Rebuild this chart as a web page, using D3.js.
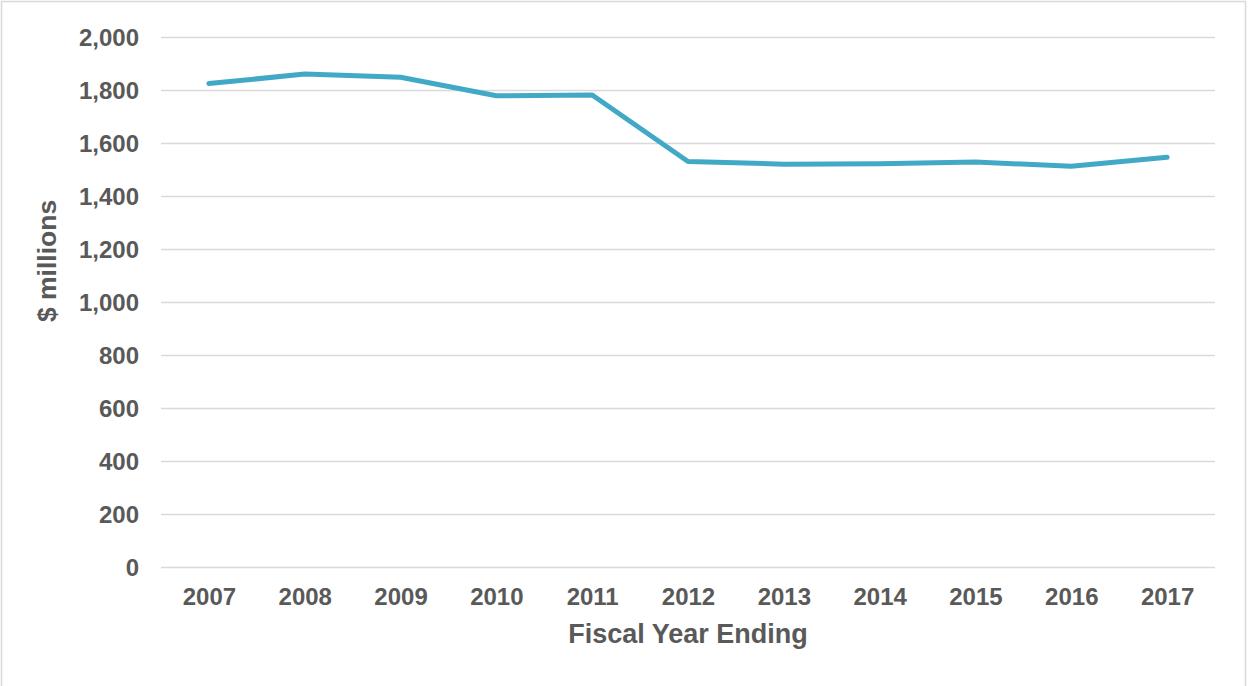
<!DOCTYPE html>
<html>
<head>
<meta charset="utf-8">
<script src="https://cdn.jsdelivr.net/npm/d3@7"></script>
<style>
  html, body { margin: 0; padding: 0; background: #fff; }
  svg { display: block; font-family: "Liberation Sans", Arial, sans-serif; }
</style>
</head>
<body>
<svg id="chart" width="1249" height="686"></svg>
<script>
// Fiscal years and spending ($ millions)
const years = ["2007", "2008", "2009", "2010", "2011", "2012", "2013", "2014", "2015", "2016", "2017"];
const spending = [1826, 1862, 1850, 1780, 1783, 1532, 1522, 1524, 1530, 1514, 1548];
const yTicks = [0, 200, 400, 600, 800, 1000, 1200, 1400, 1600, 1800, 2000];

const svg = d3.select("#chart");
const W = 1249, H = 686;
const margin = { left: 161, right: 34, top: 37.5, bottom: 118.5 };
const textColor = "#595959";

// outer frame
svg.append("rect")
  .attr("x", 1.5).attr("y", 1.5)
  .attr("width", 1244).attr("height", 700)
  .attr("fill", "#fff")
  .attr("stroke", "#d9d9d9")
  .attr("stroke-width", 1.5);

const x = d3.scalePoint()
  .domain(years)
  .range([margin.left, W - margin.right])
  .padding(0.5);

const y = d3.scaleLinear()
  .domain([0, 2000])
  .range([H - margin.bottom, margin.top]);

// horizontal gridlines
svg.append("g")
  .selectAll("line")
  .data(yTicks)
  .join("line")
  .attr("x1", margin.left)
  .attr("x2", W - margin.right)
  .attr("y1", d => y(d))
  .attr("y2", d => y(d))
  .attr("stroke", "#d9d9d9")
  .attr("stroke-width", 1.5);

// y axis labels
const yAxis = d3.axisLeft(y)
  .tickValues(yTicks)
  .tickFormat(d3.format(","))
  .tickSize(0)
  .tickPadding(22);
const gy = svg.append("g")
  .attr("transform", `translate(${margin.left},0)`)
  .call(yAxis);
gy.select(".domain").remove();
gy.selectAll("text")
  .attr("fill", textColor)
  .attr("font-size", 24)
  .attr("font-weight", "bold")
  .attr("font-family", "Liberation Sans, Arial, sans-serif");

// x axis labels
const xAxis = d3.axisBottom(x).tickSize(0).tickPadding(20);
const gx = svg.append("g")
  .attr("transform", `translate(0,${H - margin.bottom})`)
  .call(xAxis);
gx.select(".domain").remove();
gx.selectAll("text")
  .attr("fill", textColor)
  .attr("font-size", 24)
  .attr("font-weight", "bold")
  .attr("font-family", "Liberation Sans, Arial, sans-serif");

// data line
const line = d3.line()
  .x((d, i) => x(years[i]))
  .y(d => y(d));

svg.append("path")
  .datum(spending)
  .attr("d", line)
  .attr("fill", "none")
  .attr("stroke", "#41a9c6")
  .attr("stroke-width", 5)
  .attr("stroke-linejoin", "round")
  .attr("stroke-linecap", "round");

// axis titles
svg.append("text")
  .attr("x", (margin.left + W - margin.right) / 2)
  .attr("y", 643)
  .attr("text-anchor", "middle")
  .attr("fill", textColor)
  .attr("font-size", 27)
  .attr("font-weight", "bold")
  .text("Fiscal Year Ending");

svg.append("text")
  .attr("transform", "translate(56,261) rotate(-90)")
  .attr("text-anchor", "middle")
  .attr("fill", textColor)
  .attr("font-size", 26.5)
  .attr("font-weight", "bold")
  .text("$ millions");
</script>
</body>
</html>
